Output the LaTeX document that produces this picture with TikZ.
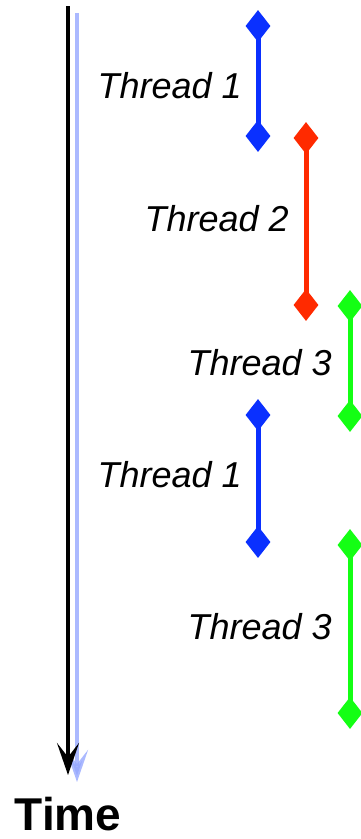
\documentclass[tikz,border=0pt]{standalone}
\usepackage{fontspec}
\setmainfont{Liberation Sans}
\usetikzlibrary{shapes.geometric,arrows.meta}
\definecolor{tblue}{RGB}{10,48,255}
\definecolor{tred}{RGB}{255,42,0}
\definecolor{tgreen}{RGB}{20,255,20}
\definecolor{shadowblue}{RGB}{150,168,255}
\begin{document}
\begin{tikzpicture}[x=1pt,y=-1pt,
  knob/.style={diamond,aspect=0.78,minimum width=25pt,minimum height=32pt,inner sep=0pt,fill=#1},
  span/.style={line width=5pt,draw=#1},
  lbl/.style={anchor=base east,inner sep=0pt,font=\fontsize{36}{36}\selectfont\itshape},
  timeaxis/.style={line width=4pt,-{Stealth[length=32pt,width=22pt,inset=14pt]}}]
\useasboundingbox (0,0) rectangle (361,839);
% time axis shadow
\coordinate (ts) at (77,13);
\coordinate (te) at (77,782);
\draw[timeaxis,draw=shadowblue,opacity=0.8] (ts) -- (te);
% time axis
\coordinate (t0) at (68,6);
\coordinate (t1) at (68,775);
\draw[timeaxis,black] (t0) -- (t1);
\node[anchor=base,inner sep=0pt,font=\fontsize{46}{46}\selectfont\bfseries] (time) at (68,830) {Time};
% Thread 1 (first)
\node[knob=tblue] (a1) at (258,26) {};
\node[knob=tblue] (a2) at (258,136) {};
\draw[span=tblue] (a1.center) -- (a2.center);
\node[lbl] (la) at (242,98) {Thread 1};
% Thread 2
\node[knob=tred] (b1) at (306,138) {};
\node[knob=tred] (b2) at (306,305) {};
\draw[span=tred] (b1.center) -- (b2.center);
\node[lbl] (lb) at (289,231) {Thread 2};
% Thread 3 (first)
\node[knob=tgreen] (c1) at (350,306) {};
\node[knob=tgreen] (c2) at (350,416) {};
\draw[span=tgreen] (c1.center) -- (c2.center);
\node[lbl] (lc) at (332,375) {Thread 3};
% Thread 1 (second)
\node[knob=tblue] (d1) at (258,415) {};
\node[knob=tblue] (d2) at (258,542) {};
\draw[span=tblue] (d1.center) -- (d2.center);
\node[lbl] (ld) at (242,487) {Thread 1};
% Thread 3 (second)
\node[knob=tgreen] (e1) at (350,545) {};
\node[knob=tgreen] (e2) at (350,713) {};
\draw[span=tgreen] (e1.center) -- (e2.center);
\node[lbl] (le) at (332,639) {Thread 3};
\end{tikzpicture}
\end{document}
